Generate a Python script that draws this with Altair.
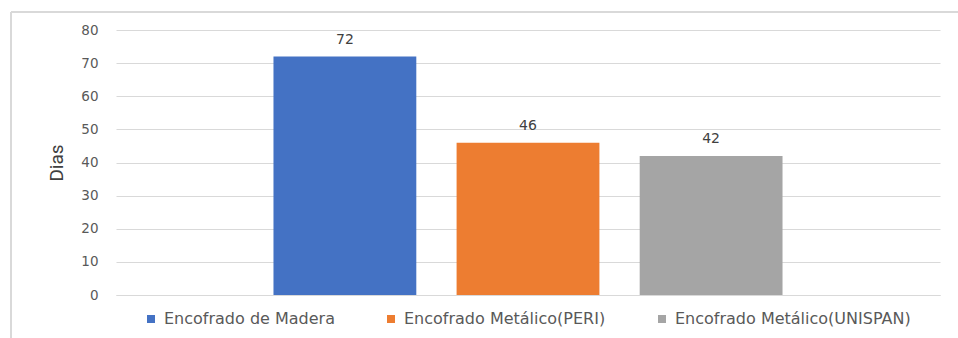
import altair as alt
import pandas as pd

series = ["Encofrado de Madera", "Encofrado Metálico(PERI)", "Encofrado Metálico(UNISPAN)"]
values = [72, 46, 42]
colors = ["#4472C4", "#ED7D31", "#A5A5A5"]
y_ticks = [0, 10, 20, 30, 40, 50, 60, 70, 80]

df = pd.DataFrame({"serie": series, "dias": values})

x = alt.X("serie:N", sort=series, title=None,
          scale=alt.Scale(paddingInner=0.22, paddingOuter=0.86),
          axis=alt.Axis(labels=False, ticks=False, domain=True, domainColor="#d9d9d9",
                        domainWidth=1.2, grid=False))
y = alt.Y("dias:Q", title="Dias",
          scale=alt.Scale(domain=[0, 80], nice=False),
          axis=alt.Axis(values=y_ticks, tickCount=20, labelOverlap=False, domain=False, ticks=False,
                        gridColor="#d9d9d9", gridWidth=1.2,
                        labelFont="DejaVu Sans", labelFontSize=13.5, labelColor="#595959",
                        labelPadding=18,
                        titleFont="Roboto", titleFontSize=19, titleFontWeight="normal",
                        titleColor="#404040", titlePadding=14))

bars = alt.Chart(df).mark_bar().encode(
    x=x, y=y,
    color=alt.Color("serie:N", sort=series, scale=alt.Scale(domain=series, range=colors),
                    legend=alt.Legend(title=None, orient="none", direction="horizontal",
                                      legendX=27, legendY=281, padding=0,
                                      symbolType="square", symbolSize=64, symbolStrokeWidth=0,
                                      labelFont="DejaVu Sans", labelFontSize=16, labelColor="#595959",
                                      labelLimit=0, columnPadding=48, labelOffset=5)),
)

labels = alt.Chart(df).mark_text(dy=-17, font="DejaVu Sans", fontSize=14, color="#404040").encode(
    x=alt.X("serie:N", sort=series), y=y, text="dias:Q")

border = alt.Chart(df).mark_rule(color="#d9d9d9", strokeWidth=1.5).encode(
    x=alt.value(-105), x2=alt.value(860), y=alt.value(-18))
border2 = alt.Chart(df).mark_rule(color="#d9d9d9", strokeWidth=1.5).encode(
    x=alt.value(-105), y=alt.value(-18), y2=alt.value(320))

chart = alt.layer(bars, labels, border, border2).properties(
    width=824, height=265,
    background="white",
    padding={"left": 116, "top": 30, "right": 18, "bottom": 43},
    autosize=alt.AutoSizeParams(type="none"),
).configure_view(strokeWidth=0, stroke=None)

chart.save("out.html", embed_options={"renderer": "svg", "actions": False})
